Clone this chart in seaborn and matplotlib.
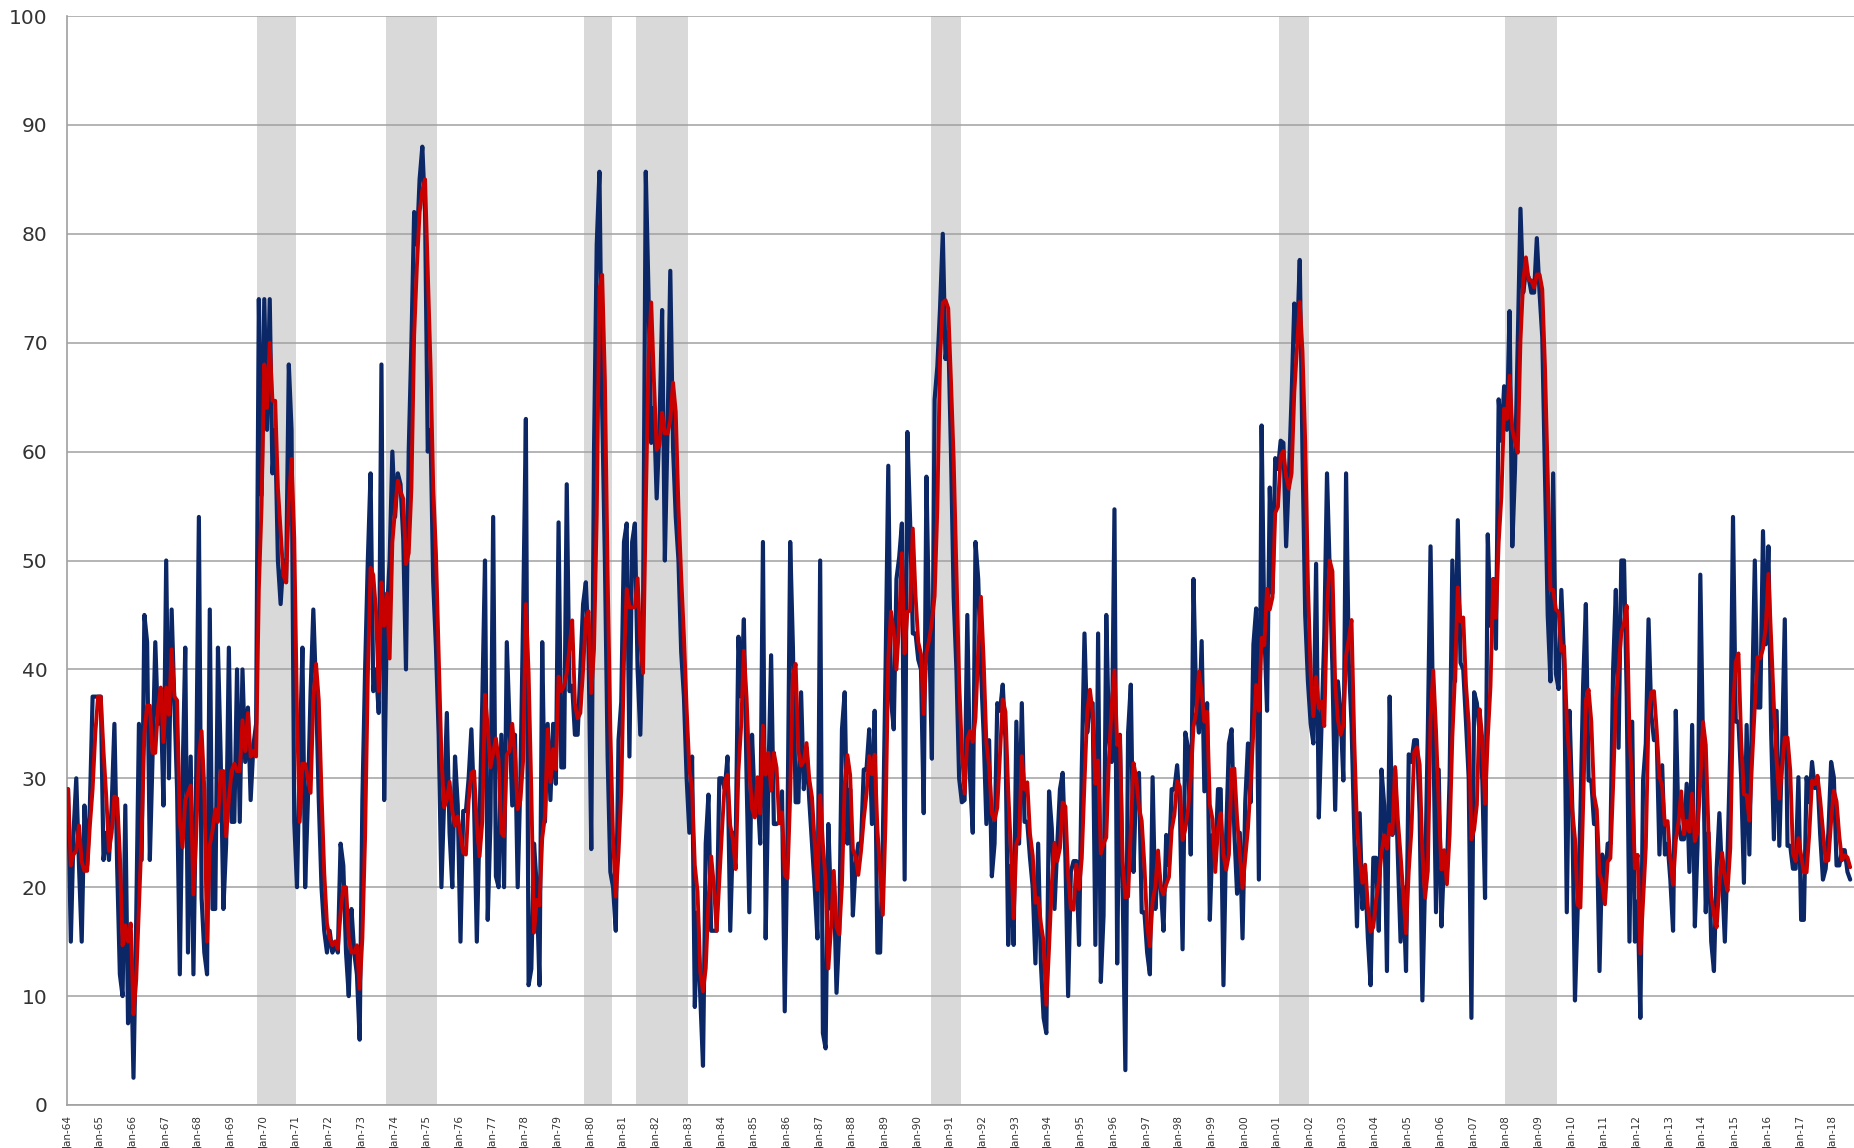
## for data
import numpy as np
import pandas as pd

## for plotting
import matplotlib
matplotlib.use("Agg")
import matplotlib.pyplot as plt
import seaborn as sns


###############################################################################
## monthly values, Jan-64 .. Jul-18

vals_1960s = [
    29, 15, 25, 30, 22, 15, 27.5, 22, 27.5, 37.5, 37.5, 37.5,            # 1964
    37.5, 22.5, 25, 22.5, 27.5, 35, 22, 12, 10, 27.5, 7.5, 15,           # 1965
    2.5, 17, 35, 22.5, 45, 42.5, 22.5, 32, 42.5, 35, 37.5, 27.5,         # 1966
    50, 30, 45.5, 37, 29, 12, 30, 42, 14, 32, 12, 30,                    # 1967
    54, 19, 14, 12, 45.5, 18, 18, 42, 32, 18, 24, 42,                    # 1968
    26, 26, 40, 26, 40, 31.5, 36.5, 28, 33, 35, 74, 56,                  # 1969
]
vals_1970s = [
    74, 62, 74, 58, 62, 50, 46, 50, 48, 68, 62, 26,
    20, 32, 42, 20, 28, 38, 45.5, 38, 28, 20, 16, 14,
    16, 14, 15, 14, 24, 22, 14, 10, 18, 14, 12, 6,
    28, 40, 50, 58, 38, 40, 36, 68, 28, 45, 50, 60,
    54, 58, 57, 52, 40, 60, 70, 82, 79, 85, 88, 82,
    60, 62, 48, 42, 34, 20, 28, 36, 25, 20, 32, 27.5,
    15, 27, 27, 30, 34.5, 27.5, 15, 26, 37, 50, 17, 26,
    54, 21, 20, 34, 20, 42.5, 35, 27.5, 34, 20, 30, 45,
    63, 11, 12.5, 24, 20, 11, 42.5, 26, 35, 28, 35, 29.5,
    53.5, 31, 31, 57, 38, 38.5, 34, 34, 40, 46, 48, 42,
]
vals_1980s = [
    23.5, 60, 79, 85.7, 64, 50, 32, 21.4, 20, 16, 33.5, 37,
    51.7, 53.4, 32, 51.7, 53.4, 40, 34, 45, 85.7, 74.6, 60.8, 64,
    55.7, 62, 73, 50, 62, 76.6, 60.4, 54, 50, 41.6, 37.5, 30,
    25, 32, 9, 17.7, 10, 3.6, 24, 28.5, 16, 16, 16, 30,
    30, 29, 32, 16, 25, 24, 43, 37.5, 44.6, 30, 17.7, 34,
    27.5, 28.8, 24, 51.7, 15.3, 30, 41.3, 25.8, 25.8, 26, 28.8, 8.6,
    25, 51.7, 42, 27.8, 27.8, 37.9, 29, 32.8, 28, 24, 20, 15.3,
    50, 6.6, 5.2, 25.8, 18, 20.7, 10.3, 16, 34.5, 37.9, 24, 29,
    17.4, 22, 24, 24, 30.8, 30.8, 34.5, 25.8, 36.2, 14, 14, 24.4,
    40, 58.7, 37.2, 34.5, 48.3, 50.3, 53.4, 20.7, 61.8, 53.7, 43.3, 43.3,
]
vals_1990s = [
    40.9, 40, 26.8, 57.7, 43.6, 31.8, 64.8, 67.8, 73.2, 80, 68.5, 71,
    60, 46.6, 40, 30, 27.8, 28, 45, 30, 25, 51.7, 48.3, 40,
    34, 25.8, 33.5, 21, 24, 36.9, 36.2, 38.6, 33.5, 14.7, 22, 14.7,
    35.2, 24, 36.9, 26, 26, 22.7, 20, 13, 24, 13, 8, 6.6,
    28.8, 25.4, 18, 23.8, 29, 30.5, 22.7, 10, 21.4, 22.4, 22.4, 14.7,
    30.8, 43.3, 34.2, 36.9, 36.9, 14.7, 43.3, 11.3, 17.4, 45, 33.5, 31.5,
    54.7, 13, 34, 20, 3.2, 34.2, 38.6, 21.4, 30.1, 30.5, 17.7, 17.7,
    14, 12, 30.1, 18, 22, 20, 16, 24.8, 22, 29, 29, 31.2,
    27.5, 14.3, 34.2, 32.8, 23, 48.3, 36.9, 34.2, 42.6, 28.8, 36.9, 17,
    24.8, 22.4, 29, 29, 11, 24.8, 33.2, 34.5, 25, 19.4, 25, 15.3,
]
vals_2000s = [
    27.8, 33.2, 27.8, 42.3, 45.6, 20.7, 62.4, 43.6, 36.2, 56.7, 47, 59.4,
    58.4, 61, 60.8, 51.3, 57.7, 65, 73.6, 70, 77.6, 60, 45, 38.9,
    35, 33.2, 49.7, 26.4, 35, 43, 58, 49, 40, 27.1, 38.9, 36,
    29.8, 58, 40.6, 35, 25, 16.4, 26.8, 18, 21.4, 15.3, 11, 22.7,
    22.7, 16, 30.8, 27.5, 12.3, 37.5, 24.8, 30.8, 23, 15, 20, 12.3,
    32.2, 31.5, 33.5, 33.5, 26.8, 9.6, 20.7, 34.2, 51.3, 34.2, 17.7, 30.8,
    16.4, 23, 21.4, 30, 50, 38.9, 53.7, 40.6, 40, 35.2, 30, 8,
    37.9, 36.9, 34.2, 29.8, 19, 52.4, 44, 48.3, 41.9, 64.8, 61, 66,
    62, 72.9, 51.3, 58.4, 70, 82.3, 74.6, 76.6, 76, 74.6, 74.6, 79.6,
    74.6, 70.5, 58, 45, 38.9, 58, 39.6, 38.2, 47.3, 40.9, 17.7, 36.2,
]
vals_2010s = [
    27.5, 9.6, 18, 26.8, 38.6, 46, 29.8, 29.8, 25.8, 25.8, 12.3, 23,
    20, 24, 24, 40, 47.3, 32.8, 50, 50, 37.5, 15, 35.2, 15,
    18.7, 8, 29.8, 33.2, 44.6, 35.9, 33.5, 33.8, 23, 31.2, 23, 24,
    20.7, 16, 36.2, 25.8, 24.4, 24.4, 29.5, 21.4, 34.9, 16.4, 24, 48.7,
    32.8, 17.7, 25, 15, 12.3, 21.7, 26.8, 21, 15, 23, 32.8, 54,
    35.2, 35.2, 30, 20.4, 34.9, 23, 36.9, 50, 36.5, 36.5, 52.7, 42.3,
    51.3, 34.2, 24.4, 36.2, 23.8, 32.8, 44.6, 23.8, 23.8, 21.7, 21.7, 30.1,
    17, 17, 30.1, 27.8, 31.5, 29.1, 30.1, 24.8, 20.7, 21.7, 25, 31.5,
    30.1, 22, 22, 23.4, 23.4, 21.4, 20.7,
]

first_year = 1964
tick_labels = ["Jan-%02d" % (y % 100) for y in range(1964, 2019)]

# shaded recession periods (year, month)
recessions = [
    ((1969, 11), (1970, 12)),
    ((1973, 10), (1975, 4)),
    ((1979, 11), (1980, 8)),
    ((1981, 6), (1982, 12)),
    ((1990, 6), (1991, 4)),
    ((2001, 2), (2001, 12)),
    ((2008, 1), (2009, 7)),
]


###############################################################################

def month_index(ym):
    return (ym[0] - first_year) * 12 + ym[1] - 1


values = vals_1960s + vals_1970s + vals_1980s + vals_1990s + vals_2000s + vals_2010s
df = pd.DataFrame({"idx": np.arange(len(values)), "value": values})
df["ma"] = df["value"].rolling(3, min_periods=1).mean()

sns.set_style("white")
plt.rcParams["font.family"] = ["DejaVu Sans"]

W, H = 1854, 1148
fig = plt.figure(figsize=(W / 100, H / 100), dpi=100)
ax = fig.add_axes([67 / W, 43 / H, 1 - 67 / W, (1105 - 16) / H])

for s, e in recessions:
    ax.axvspan(month_index(s) - 0.5, month_index(e) + 0.5,
               color="#d9d9d9", lw=0, zorder=0)

sns.lineplot(data=df, x="idx", y="value", color="#0c2766", lw=3.0, ax=ax, zorder=3)
sns.lineplot(data=df, x="idx", y="ma", color="#c80000", lw=2.8, ax=ax, zorder=4)

ax.set_xlim(-0.4, 655.4)
ax.set_ylim(0, 100)
ax.set_yticks(range(0, 101, 10))
ax.yaxis.grid(True, color="#a0a0a0", lw=1.1, zorder=1)
ax.set_axisbelow(True)

ax.set_xticks(np.arange(0, len(tick_labels) * 12, 12))
ax.set_xticklabels(tick_labels, rotation=90)
ax.set_xlabel("")
ax.set_ylabel("")

ax.tick_params(axis="y", length=6, color="#a0a0a0", pad=8,
               labelsize=14.5, labelcolor="#333333")
ax.tick_params(axis="x", length=5, color="#a0a0a0", pad=3,
               labelsize=7.5, labelcolor="#333333")

for side in ["top", "right"]:
    ax.spines[side].set_visible(False)
for side in ["left", "bottom"]:
    ax.spines[side].set_color("#a0a0a0")
    ax.spines[side].set_linewidth(1.2)

fig.savefig("out.png", dpi=100)
